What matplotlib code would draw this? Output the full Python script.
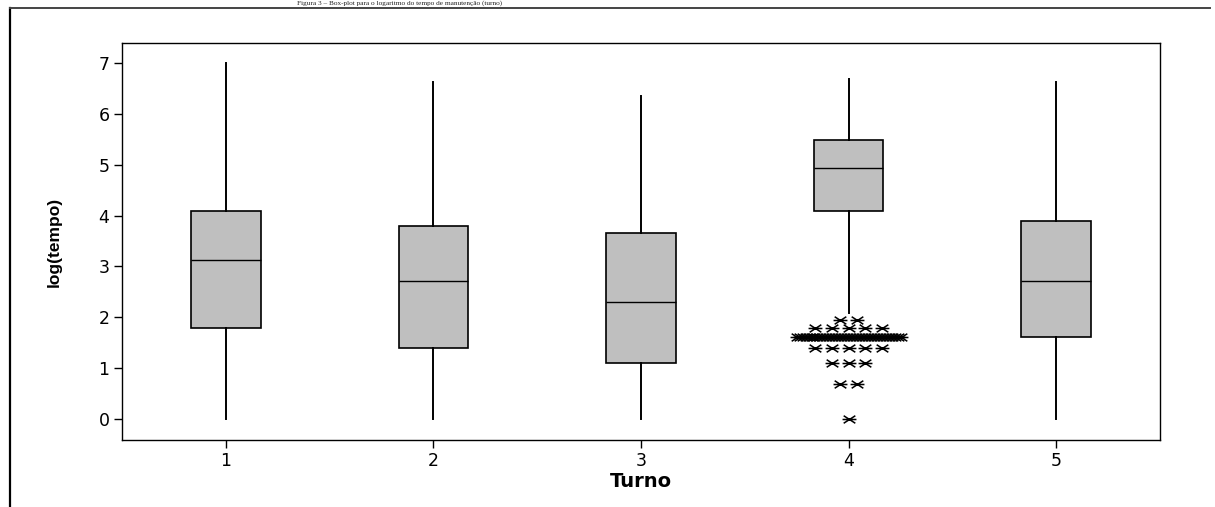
import numpy as np
import matplotlib
matplotlib.use("Agg")
from matplotlib import pyplot as plt
from matplotlib.path import Path
from matplotlib.lines import Line2D

# log(tempo) summary per turno
turnos = [1, 2, 3, 4, 5]
q1 = [1.79, 1.39, 1.10, 4.09, 1.61]
medians = [3.12, 2.71, 2.30, 4.94, 2.71]
q3 = [4.08, 3.80, 3.66, 5.48, 3.89]
whis_lo = [0.00, 0.00, 0.00, 2.08, 0.00]
whis_hi = [7.00, 6.63, 6.34, 6.68, 6.63]

# outliers of turno 4 (value, how many repeated)
out_turno = 4
out_vals = [0.00, 0.69, 1.10, 1.39, 1.61, 1.79, 1.95]
out_counts = [1, 2, 3, 5, 36, 5, 2]

yticks = [0, 1, 2, 3, 4, 5, 6, 7]
caption = "Figura 3 – Box-plot para o logaritmo do tempo de manutenção (turno)"

W, H = 1215, 507
fig = plt.figure(figsize=(W / 100, H / 100), dpi=100)
fig.patch.set_facecolor("white")
ax = fig.add_axes([122 / W, 1 - 440 / H, (1160 - 122) / W, (440 - 43) / H])

stats = []
for i in range(len(turnos)):
    stats.append(dict(med=medians[i], q1=q1[i], q3=q3[i],
                      whislo=whis_lo[i], whishi=whis_hi[i], fliers=[]))

ax.bxp(stats, positions=turnos, widths=0.335, showcaps=False, showfliers=False,
       patch_artist=True,
       boxprops=dict(facecolor="#bfbfbf", edgecolor="black", linewidth=1.2),
       medianprops=dict(color="black", linewidth=1.0),
       whiskerprops=dict(color="black", linewidth=1.4))

# asterisk marker: horizontal bar crossed by a flat X
c, s = np.cos(np.radians(33)), np.sin(np.radians(33))
star = Path([(-1, 0), (1, 0), (-c, -s), (c, s), (-c, s), (c, -s)],
            [Path.MOVETO, Path.LINETO] * 3)

for v, n in zip(out_vals, out_counts):
    step = 0.08 if n < 2 else min(0.08, 0.5 / (n - 1))
    xs = out_turno + (np.arange(n) - (n - 1) / 2) * step
    ax.plot(xs, [v] * n, linestyle="none", marker=star, markersize=10,
            markeredgewidth=1.1, color="black")

ax.set_xlim(0.5, 5.5)
ax.set_ylim(-0.41, 7.39)
ax.set_xticks(turnos)
ax.set_xticklabels([str(t) for t in turnos])
ax.set_yticks(yticks)
ax.tick_params(axis="both", direction="out", length=5.5, width=1.0,
               labelsize=12.5, color="black")
ax.tick_params(axis="x", pad=3.5)
ax.tick_params(axis="y", pad=3.5)
for sp in ax.spines.values():
    sp.set_linewidth(1.0)

ax.set_xlabel("Turno", fontsize=14, fontweight="bold")
ax.xaxis.set_label_coords(0.5, -0.08)
ax.set_ylabel("log(tempo)", fontsize=12.5, fontweight="bold",
              family=["Liberation Sans", "DejaVu Sans"])
ax.yaxis.set_label_coords(-0.058, 0.5)

# page frame around the figure cell
fig.add_artist(Line2D([9.5 / W, 9.5 / W], [0, 1 - 7.5 / H],
                      transform=fig.transFigure, color="black", linewidth=1.6))
fig.add_artist(Line2D([9.5 / W, 1210 / W], [1 - 7.5 / H, 1 - 7.5 / H],
                      transform=fig.transFigure, color="#444444", linewidth=1.4))

fig.text(400 / W, 1 - 0.5 / H, caption, ha="center", va="top",
         fontsize=5.2, color="#222222", family=["Liberation Serif", "DejaVu Serif"])

fig.savefig("out.png", dpi=100)
